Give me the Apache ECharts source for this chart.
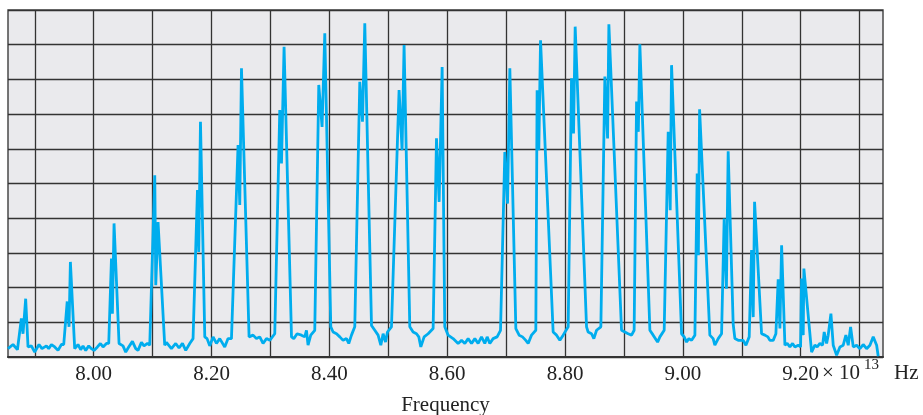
<!DOCTYPE html>
<html>
<head>
<meta charset="utf-8">
<script src="https://cdn.jsdelivr.net/npm/echarts@6/dist/echarts.min.js"></script>
<style>html,body{margin:0;padding:0;background:#fff;}#c{width:923px;height:415px;}</style>
</head>
<body>
<div id="c"></div>
<script>
// Frequency (×10^13 Hz)
const freq = [
7.8545,7.8630,7.8705,7.8772,7.8800,7.8845,7.8885,7.8942,7.8998,7.9071,
7.9122,7.9197,7.9236,7.9282,7.9338,7.9394,7.9452,7.9491,7.9550,7.9581,
7.9604,7.9677,7.9733,7.9779,7.9818,7.9864,7.9915,7.9961,8.0005,8.0063,
8.0114,8.0158,8.0216,8.0255,8.0301,8.0317,8.0345,8.0430,8.0497,8.0543,
8.0594,8.0657,8.0713,8.0752,8.0810,8.0854,8.0912,8.0951,8.1036,8.1053,
8.1092,8.1205,8.1234,8.1319,8.1392,8.1448,8.1506,8.1562,8.1630,8.1686,
8.1761,8.1783,8.1812,8.1885,8.1924,8.1969,8.2026,8.2083,8.2139,8.2224,
8.2280,8.2338,8.2450,8.2479,8.2508,8.2637,8.2705,8.2762,8.2818,8.2874,
8.2932,8.2988,8.3073,8.3158,8.3187,8.3231,8.3357,8.3396,8.3452,8.3526,
8.3582,8.3611,8.3638,8.3684,8.3752,8.3820,8.3876,8.3922,8.4024,8.4063,
8.4121,8.4177,8.4233,8.4290,8.4329,8.4375,8.4431,8.4516,8.4562,8.4601,
8.4715,8.4771,8.4827,8.4873,8.4912,8.4953,8.4986,8.5054,8.5183,8.5234,
8.5268,8.5365,8.5421,8.5479,8.5518,8.5552,8.5608,8.5676,8.5761,8.5818,
8.5863,8.5914,8.5959,8.6015,8.6100,8.6185,8.6243,8.6299,8.6355,8.6413,
8.6469,8.6525,8.6582,8.6638,8.6678,8.6723,8.6779,8.6847,8.6905,8.6978,
8.7024,8.7063,8.7165,8.7221,8.7278,8.7334,8.7374,8.7431,8.7504,8.7526,
8.7555,8.7584,8.7798,8.7856,8.7912,8.7968,8.8053,8.8110,8.8144,8.8172,
8.8365,8.8392,8.8450,8.8489,8.8535,8.8608,8.8676,8.8722,8.8744,8.8959,
8.9015,8.9071,8.9129,8.9173,8.9214,8.9244,8.9270,8.9440,8.9496,8.9571,
8.9610,8.9683,8.9751,8.9785,8.9808,8.9978,9.0022,9.0063,9.0102,9.0148,
9.0204,9.0243,9.0263,9.0284,9.0458,9.0514,9.0543,9.0600,9.0657,9.0701,
9.0739,9.0769,9.0854,9.0883,9.0939,9.1024,9.1070,9.1126,9.1166,9.1194,
9.1217,9.1336,9.1392,9.1443,9.1477,9.1533,9.1579,9.1618,9.1647,9.1676,
9.1732,9.1771,9.1817,9.1862,9.1902,9.1958,9.1998,9.2015,9.2043,9.2054,
9.2185,9.2241,9.2280,9.2326,9.2372,9.2399,9.2440,9.2467,9.2513,9.2552,
9.2610,9.2666,9.2722,9.2767,9.2807,9.2847,9.2892,9.2949,9.3005,9.3061,
9.3119,9.3175,9.3231,9.3289,9.3316
];
// Absorption (grid units)
const absorb = [
0.24,0.36,0.21,1.11,0.67,1.68,0.29,0.32,0.14,0.36,
0.24,0.32,0.24,0.36,0.29,0.19,0.36,0.36,1.60,0.87,
2.74,0.24,0.36,0.21,0.32,0.19,0.32,0.24,0.19,0.29,
0.39,0.29,0.39,0.39,2.84,1.25,3.85,0.39,0.32,0.14,
0.29,0.45,0.24,0.19,0.42,0.32,0.39,0.34,5.24,2.07,
3.89,0.34,0.42,0.24,0.39,0.26,0.39,0.19,0.39,0.53,
4.81,3.03,6.78,0.58,0.53,0.32,0.58,0.39,0.53,0.29,
0.53,0.53,6.11,4.38,8.32,0.58,0.63,0.53,0.58,0.39,
0.53,0.48,0.67,7.12,5.58,8.94,0.58,0.53,0.67,0.63,
0.58,0.77,0.34,0.63,0.77,7.84,6.63,9.33,0.87,0.72,
0.67,0.58,0.48,0.53,0.39,0.63,0.87,7.93,6.78,9.62,
0.91,0.77,0.63,0.34,0.67,0.43,0.72,0.87,7.69,5.96,
8.99,0.87,0.72,0.67,0.58,0.29,0.58,0.67,0.82,6.30,
4.47,8.36,0.87,0.63,0.53,0.39,0.48,0.39,0.53,0.39,
0.53,0.39,0.58,0.39,0.58,0.39,0.53,0.58,0.77,5.91,
4.42,8.32,0.82,0.63,0.58,0.48,0.39,0.63,0.77,7.69,
5.96,9.13,0.72,0.63,0.48,0.63,0.87,8.03,6.44,9.52,
0.87,0.72,0.67,0.53,0.77,0.87,8.08,6.30,9.59,0.77,
0.72,0.67,0.63,0.77,7.36,6.49,9.01,0.77,0.63,0.43,
0.58,0.77,6.49,4.23,8.41,0.67,0.58,0.43,0.53,0.48,
0.63,5.29,2.93,7.14,0.63,0.53,0.34,0.53,0.67,3.99,
1.97,5.93,0.95,0.53,0.48,0.48,0.34,0.58,3.08,1.15,
4.47,0.67,0.63,0.58,0.48,0.48,0.67,2.24,0.82,3.22,
0.34,0.39,0.29,0.39,0.29,0.34,0.29,2.26,0.63,2.55,
0.14,0.34,0.29,0.39,0.34,0.72,0.39,0.63,1.25,0.34,
0.05,0.29,0.34,0.63,0.34,0.87,0.29,0.34,0.24,0.36,
0.24,0.34,0.58,0.34,0.02
];
const gridTicks = [7.9,8.0,8.1,8.2,8.3,8.4,8.5,8.6,8.7,8.8,8.9,9.0,9.1,9.2,9.3];
const labelTicks = [8.0,8.2,8.4,8.6,8.8,9.0,9.2];
const xMin = 7.8545, xMax = 9.3397;
const yMin = 0, yMax = 10, yStep = 1;

const serif = '"Liberation Serif", "DejaVu Serif", serif';
const chart = echarts.init(document.getElementById('c'), null, {renderer: 'canvas'});
chart.setOption({
  animation: false,
  backgroundColor: '#ffffff',
  grid: {left: 8, top: 10, right: 40, bottom: 58, show: true, containLabel: false,
         outerBoundsMode: 'none',
         backgroundColor: '#eaeaed', borderColor: '#4a4a4a', borderWidth: 1.5},
  xAxis: {
    type: 'value', min: xMin, max: xMax,
    axisLine: {show: true, lineStyle: {color: '#333', width: 2}},
    axisTick: {show: false, customValues: gridTicks},
    splitLine: {show: true, lineStyle: {color: '#333', width: 1.3}},
    axisLabel: {customValues: labelTicks, formatter: v => v.toFixed(2),
                fontFamily: serif, fontSize: 21, color: '#222', margin: 7},
    name: 'Frequency', nameLocation: 'middle', nameGap: 38,
    nameTextStyle: {fontFamily: serif, fontSize: 21, color: '#222'}
  },
  yAxis: {
    type: 'value', min: yMin, max: yMax, interval: yStep,
    axisLabel: {show: false}, axisLine: {show: false}, axisTick: {show: false},
    splitLine: {show: true, lineStyle: {color: '#333', width: 1.3}}
  },
  series: [{
    type: 'line', data: freq.map((f, i) => [f, absorb[i]]),
    showSymbol: false, symbol: 'none',
    lineStyle: {color: '#00adee', width: 2.8}, clip: true
  }],
  graphic: [
    {type: 'text', x: 822, y: 373, style: {text: '× 10', font: '21px ' + serif, fill: '#222', align: 'left', verticalAlign: 'middle'}},
    {type: 'text', x: 864, y: 365, style: {text: '13', font: '15px ' + serif, fill: '#222', align: 'left', verticalAlign: 'middle'}},
    {type: 'text', x: 894, y: 373, style: {text: 'Hz', font: '21px ' + serif, fill: '#222', align: 'left', verticalAlign: 'middle'}}
  ]
});
</script>
</body>
</html>
